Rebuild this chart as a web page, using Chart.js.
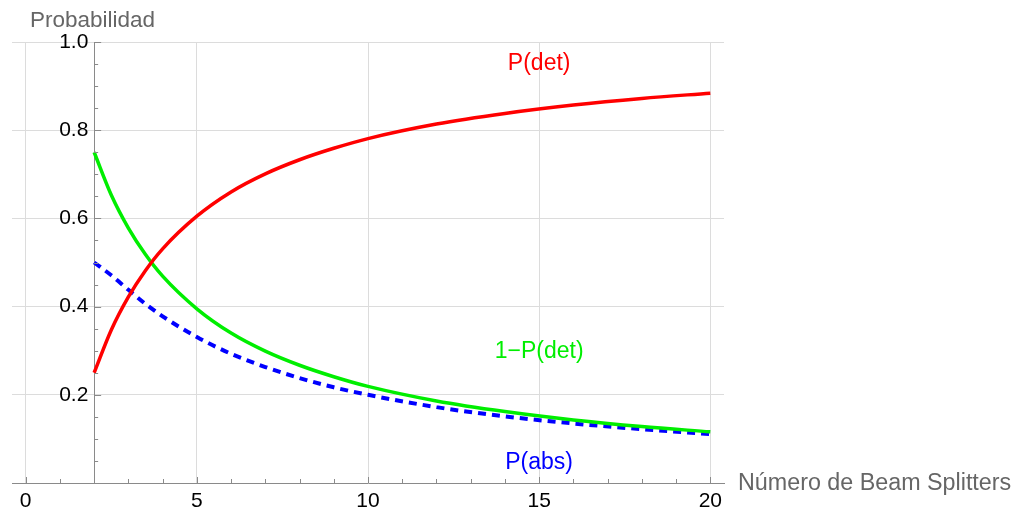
<!DOCTYPE html>
<html>
<head>
<meta charset="utf-8">
<script src="https://cdn.jsdelivr.net/npm/chart.js@4.4.1/dist/chart.umd.min.js"></script>
<style>
  html, body { margin: 0; padding: 0; background: #fff; }
  #chart { display: block; }
</style>
</head>
<body>
<canvas id="chart" width="1015" height="512"></canvas>
<script>
// data
const beamSplitters = [2, 2.5, 3, 3.5, 4, 5, 6, 7, 8, 9, 10, 12, 14, 16, 18, 20];
const pDet      = [0.25, 0.347, 0.422, 0.482, 0.531, 0.605, 0.660, 0.701, 0.733, 0.759, 0.781, 0.814, 0.838, 0.857, 0.872, 0.884];
const oneMinusP = [0.75, 0.653, 0.578, 0.518, 0.469, 0.395, 0.340, 0.299, 0.267, 0.241, 0.219, 0.186, 0.162, 0.143, 0.128, 0.116];
const pAbs      = [0.50, 0.471, 0.438, 0.406, 0.378, 0.331, 0.293, 0.263, 0.238, 0.217, 0.200, 0.172, 0.151, 0.135, 0.122, 0.111];
const xTicks = [0, 5, 10, 15, 20];
const yTicks = [0.2, 0.4, 0.6, 0.8, 1.0];

const curveLabels = [
  { text: 'P(det)',   x: 15, y: 0.950, color: '#ff0000' },
  { text: '1\u2212P(det)', x: 15, y: 0.297, color: '#00ee00' },
  { text: 'P(abs)',   x: 15, y: 0.047, color: '#0000ff' }
];

const FONT = "'Liberation Sans', Arial, sans-serif";
const pts = ys => beamSplitters.map((x, i) => ({ x: x, y: ys[i] }));

// minor ticks, curve labels and axis titles
const decor = {
  id: 'decor',
  afterDatasetsDraw(chart) {
    const { ctx, scales: { x, y } } = chart;
    const ax = x.getPixelForValue(2);
    const ay = y.getPixelForValue(0);
    ctx.save();
    ctx.strokeStyle = '#8a8a8a';
    ctx.lineWidth = 1;
    ctx.beginPath();
    for (let v = 0; v <= 20; v++) {
      if (v === 2) continue;
      const px = Math.round(x.getPixelForValue(v)) + 0.5;
      const len = v % 5 === 0 ? 6 : 4;
      ctx.moveTo(px, ay);
      ctx.lineTo(px, ay - len);
    }
    for (let k = 1; k <= 20; k++) {
      const py = Math.round(y.getPixelForValue(k * 0.05)) + 0.5;
      const len = k % 4 === 0 ? 7 : 4;
      ctx.moveTo(ax, py);
      ctx.lineTo(ax + len, py);
    }
    ctx.stroke();

    ctx.textAlign = 'center';
    ctx.textBaseline = 'middle';
    ctx.font = '23px ' + FONT;
    curveLabels.forEach(l => {
      ctx.fillStyle = l.color;
      ctx.fillText(l.text, x.getPixelForValue(l.x), y.getPixelForValue(l.y));
    });

    ctx.fillStyle = '#666666';
    ctx.textAlign = 'left';
    ctx.textBaseline = 'alphabetic';
    ctx.font = '22.5px ' + FONT;
    ctx.fillText('Probabilidad', 30, 27);
    ctx.font = '23.3px ' + FONT;
    ctx.textBaseline = 'middle';
    ctx.fillText('Número de Beam Splitters', 738, 484);
    ctx.restore();
  }
};

new Chart(document.getElementById('chart'), {
  type: 'line',
  data: {
    datasets: [
      {
        label: 'P(det)',
        data: pts(pDet),
        borderColor: '#ff0000',
        borderWidth: 3.5,
        pointRadius: 0,
        cubicInterpolationMode: 'monotone',
        fill: false
      },
      {
        label: '1-P(det)',
        data: pts(oneMinusP),
        borderColor: '#00ee00',
        borderWidth: 3.5,
        pointRadius: 0,
        cubicInterpolationMode: 'monotone',
        fill: false
      },
      {
        label: 'P(abs)',
        data: pts(pAbs),
        borderColor: '#0000ff',
        borderWidth: 4,
        borderDash: [8, 6],
        pointRadius: 0,
        cubicInterpolationMode: 'monotone',
        fill: false
      }
    ]
  },
  options: {
    responsive: false,
    animation: false,
    layout: { padding: { left: 12, right: 291, top: 42, bottom: 0 } },
    plugins: { legend: { display: false }, tooltip: { enabled: false } },
    scales: {
      x: {
        type: 'linear',
        position: 'bottom',
        min: -0.4,
        max: 20.4,
        afterBuildTicks: s => { s.ticks = xTicks.map(v => ({ value: v })); },
        afterFit: s => { s.height = 29; },
        grid: { color: '#dcdcdc', drawTicks: false },
        border: { color: '#8a8a8a', width: 1 },
        ticks: {
          color: '#000',
          font: { family: FONT, size: 21 },
          padding: 6,
          maxRotation: 0,
          callback: v => String(v)
        }
      },
      y: {
        type: 'linear',
        position: { x: 2 },
        min: 0,
        max: 1,
        afterBuildTicks: s => { s.ticks = yTicks.map(v => ({ value: v })); },
        grid: { color: '#dcdcdc', drawTicks: false },
        border: { color: '#8a8a8a', width: 1 },
        ticks: {
          color: '#000',
          font: { family: FONT, size: 21 },
          padding: 7,
          // positioned axis ignores padding, trailing space gives the gap
          callback: v => v.toFixed(1) + ' '
        }
      }
    }
  },
  plugins: [decor]
});
</script>
</body>
</html>
